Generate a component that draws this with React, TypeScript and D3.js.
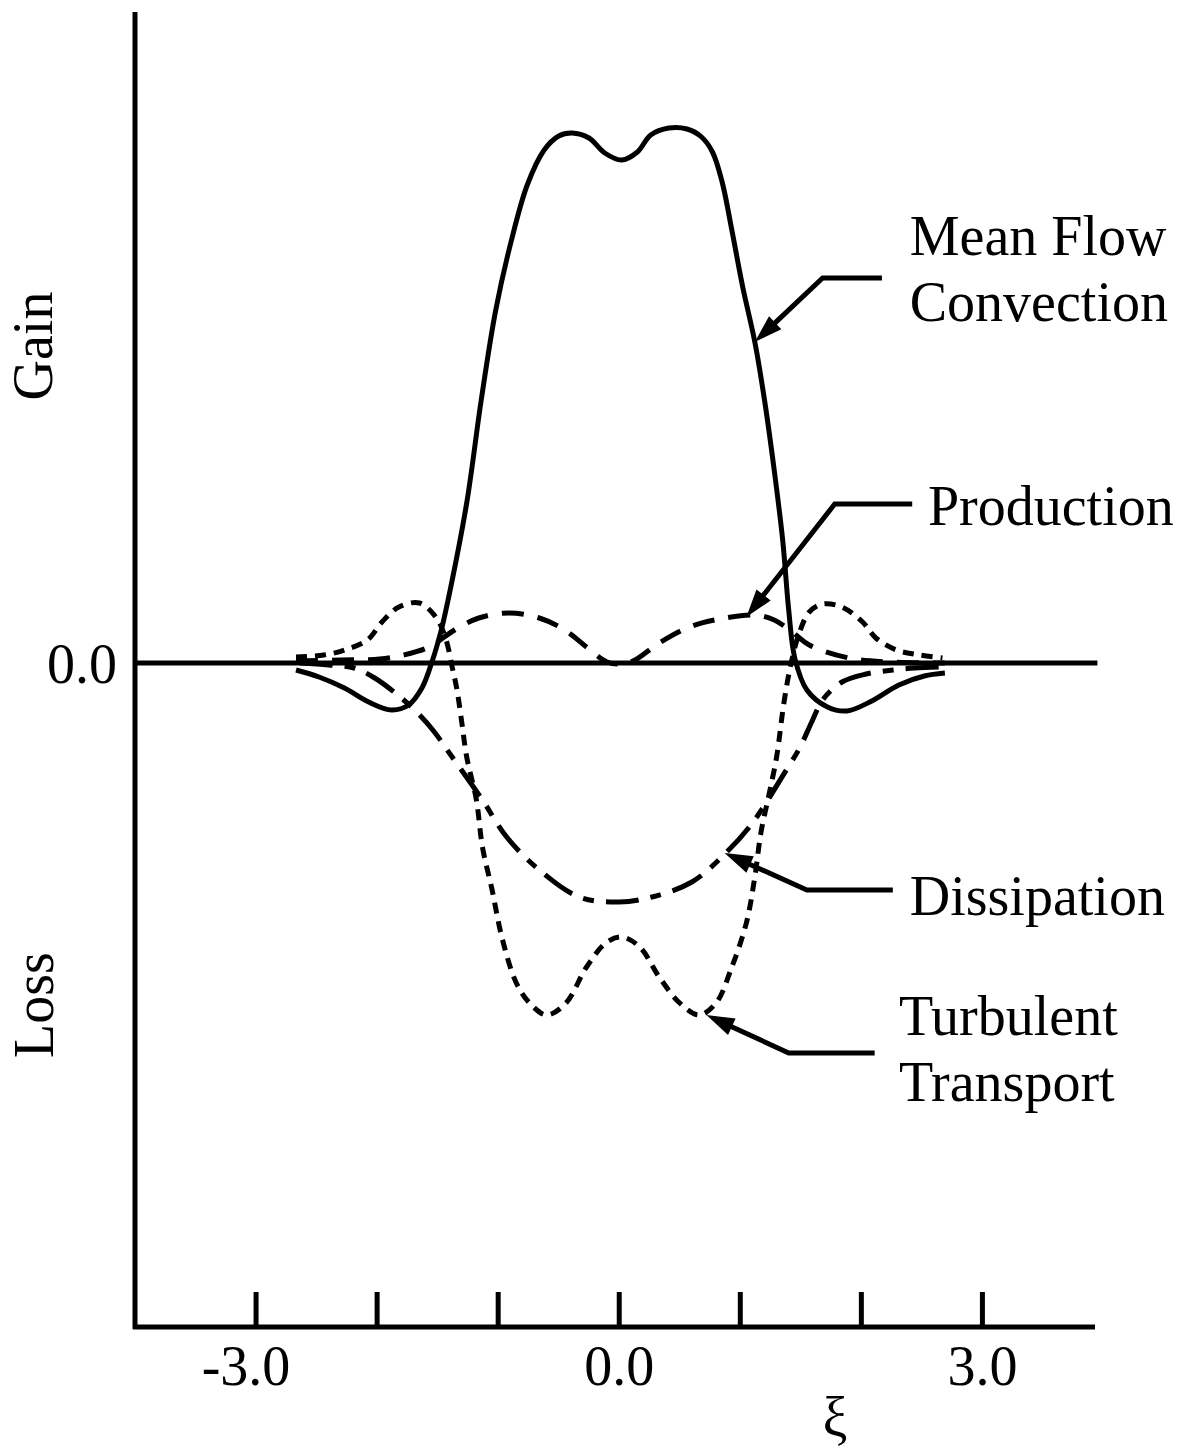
import React from "react";
import * as d3 from "d3";

// ξ positions and values (arbitrary units, gain > 0, loss < 0)
const convectionXi = [-2.67,-2.48,-2.27,-2.07,-1.88,-1.74,-1.63,-1.55,-1.47,-1.40,-1.26,-1.14,-1.02,-0.89,-0.76,-0.62,-0.50,-0.39,-0.25,-0.12,0.02,0.15,0.26,0.41,0.56,0.68,0.77,0.85,0.93,1.02,1.12,1.20,1.28,1.35,1.40,1.45,1.55,1.72,1.88,2.07,2.31,2.52,2.69];
const convectionVal = [-0.07,-0.14,-0.25,-0.39,-0.47,-0.42,-0.25,0.0,0.33,0.71,1.60,2.63,3.53,4.23,4.78,5.13,5.27,5.30,5.25,5.10,5.03,5.11,5.28,5.35,5.34,5.26,5.11,4.81,4.33,3.76,3.21,2.63,1.93,1.23,0.53,0.05,-0.27,-0.44,-0.48,-0.39,-0.22,-0.13,-0.10];

const productionXi = [-2.67,-2.31,-1.98,-1.78,-1.57,-1.36,-1.16,-0.91,-0.66,-0.45,-0.26,-0.10,0.02,0.13,0.33,0.58,0.83,1.12,1.28,1.42,1.57,1.90,2.23,2.69];
const productionVal = [0.02,0.03,0.04,0.08,0.16,0.33,0.45,0.50,0.45,0.33,0.15,0.01,-0.01,0.03,0.20,0.36,0.44,0.48,0.43,0.32,0.18,0.05,0.01,0.0];

const dissipationXi = [-2.64,-2.40,-2.19,-2.02,-1.86,-1.69,-1.54,-1.38,-1.13,-0.93,-0.66,-0.33,0.0,0.27,0.60,0.88,1.10,1.38,1.49,1.59,1.68,1.84,2.04,2.26,2.44,2.64];
const dissipationVal = [0.0,-0.02,-0.05,-0.15,-0.29,-0.47,-0.67,-0.94,-1.37,-1.74,-2.07,-2.34,-2.39,-2.34,-2.19,-1.90,-1.60,-1.07,-0.85,-0.59,-0.37,-0.19,-0.11,-0.07,-0.05,-0.04];

const transportXi = [-2.67,-2.44,-2.27,-2.08,-1.96,-1.82,-1.65,-1.51,-1.43,-1.38,-1.34,-1.30,-1.26,-1.18,-1.13,-1.05,-0.97,-0.85,-0.74,-0.60,-0.44,-0.27,-0.11,0.02,0.17,0.33,0.50,0.66,0.80,0.93,1.05,1.12,1.17,1.24,1.30,1.36,1.42,1.49,1.57,1.68,1.84,2.01,2.12,2.29,2.48,2.67];
const transportVal = [0.06,0.08,0.13,0.23,0.41,0.56,0.60,0.45,0.23,-0.04,-0.27,-0.60,-0.94,-1.37,-1.84,-2.27,-2.74,-3.20,-3.40,-3.52,-3.40,-3.04,-2.80,-2.74,-2.84,-3.14,-3.40,-3.52,-3.40,-3.04,-2.60,-2.14,-1.70,-1.30,-0.94,-0.40,0.0,0.31,0.51,0.59,0.56,0.41,0.25,0.13,0.08,0.05];

const xTicks = [-3, -2, -1, 0, 1, 2, 3];
const xTickLabels = ["-3.0", "", "", "0.0", "", "", "3.0"];
const yTickValues = [0];
const yTickLabels = ["0.0"];

const seriesNames = ["Mean Flow Convection", "Production", "Dissipation", "Turbulent Transport"];

// leader lines: [start, bend, tip] in data coords; label lines
const leaderPoints: [number, number][][] = [
  [[2.17, 3.85], [1.68, 3.85], [1.12, 3.21]],
  [[2.42, 1.59], [1.78, 1.59], [1.05, 0.46]],
  [[2.26, -2.27], [1.55, -2.27], [0.87, -1.90]],
  [[2.11, -3.90], [1.40, -3.90], [0.72, -3.52]],
];
const labelLines = [["Mean Flow", "Convection"], ["Production"], ["Dissipation"], ["Turbulent", "Transport"]];
const labelAnchors: [number, number][] = [[2.40, 4.08], [2.55, 1.38], [2.40, -2.52], [2.31, -3.72]];

const W = 1196, H = 1449;
const FONT = "'Liberation Serif', 'Times New Roman', serif";

export default function App() {
  const x = d3.scaleLinear().domain([-4, 3.93]).range([135, 1095]);
  const y = d3.scaleLinear().domain([-6.64, 6.51]).range([1327, 12]);
  const line = d3
    .line<[number, number]>()
    .x((d) => x(d[0]))
    .y((d) => y(d[1]))
    .curve(d3.curveCatmullRom.alpha(0.5));

  const zip = (a: number[], b: number[]) => a.map((v, i) => [v, b[i]] as [number, number]);
  const series = [
    { data: zip(convectionXi, convectionVal), dash: "none" },
    { data: zip(productionXi, productionVal), dash: "22,14" },
    { data: zip(dissipationXi, dissipationVal), dash: "33,12,11,12" },
    { data: zip(transportXi, transportVal), dash: "11,8" },
  ];

  const fs = 56;
  const lineGap = 66;

  return (
    <svg
      width={W}
      height={H}
      style={{ position: "absolute", left: 0, top: 0, background: "#fff" }}
      fontFamily={FONT}
    >
      <rect x={0} y={0} width={W} height={H} fill="#fff" />
      {/* axes */}
      <line x1={x(-4)} x2={x(-4)} y1={12} y2={1329} stroke="#000" strokeWidth={5} />
      <line x1={x(-4) - 2} x2={x(3.93)} y1={1327} y2={1327} stroke="#000" strokeWidth={5} />
      {xTicks.map((t, i) => (
        <g key={t}>
          <line x1={x(t)} x2={x(t)} y1={1292} y2={1327} stroke="#000" strokeWidth={5} />
          {xTickLabels[i] && (
            <text
              x={x(t) - (xTickLabels[i].startsWith("-") ? 10 : 0)}
              y={1385}
              fontSize={fs}
              textAnchor="middle"
            >
              {xTickLabels[i]}
            </text>
          )}
        </g>
      ))}
      <text x={835} y={1436} fontSize={fs} textAnchor="middle">ξ</text>
      {/* zero line */}
      <line x1={x(-4)} x2={x(3.95)} y1={y(0)} y2={y(0)} stroke="#000" strokeWidth={5} />
      {yTickValues.map((v, i) => (
        <text key={v} x={117} y={y(v) + 20} fontSize={fs} textAnchor="end">{yTickLabels[i]}</text>
      ))}
      <text transform={`translate(52,346) rotate(-90)`} fontSize={fs} textAnchor="middle">Gain</text>
      <text transform={`translate(53,1005) rotate(-90)`} fontSize={fs} textAnchor="middle">Loss</text>

      {/* curves */}
      {series.map((s, i) => (
        <path
          key={seriesNames[i]}
          d={line(s.data) || ""}
          fill="none"
          stroke="#000"
          strokeWidth={5}
          strokeDasharray={s.dash}
        />
      ))}

      {/* leaders */}
      {leaderPoints.map((pts, i) => {
        const p = pts.map((d) => [x(d[0]), y(d[1])]);
        const [bx, by] = p[1];
        const [tx, ty] = p[2];
        const dx = tx - bx, dy = ty - by;
        const len = Math.hypot(dx, dy);
        const ux = dx / len, uy = dy / len;
        const L = 28, hw = 9;
        const baseX = tx - ux * L, baseY = ty - uy * L;
        const head = [
          [tx, ty],
          [baseX - uy * hw, baseY + ux * hw],
          [baseX + uy * hw, baseY - ux * hw],
        ];
        return (
          <g key={"lead" + i}>
            <polyline
              points={`${p[0][0]},${p[0][1]} ${bx},${by} ${baseX + ux * 2},${baseY + uy * 2}`}
              fill="none"
              stroke="#000"
              strokeWidth={5}
            />
            <polygon points={head.map((h) => h.join(",")).join(" ")} fill="#000" />
          </g>
        );
      })}
      {labelLines.map((ls, i) => (
        <text key={"lab" + i} x={x(labelAnchors[i][0])} y={y(labelAnchors[i][1])} fontSize={fs}>
          {ls.map((t, j) => (
            <tspan key={j} x={x(labelAnchors[i][0])} dy={j === 0 ? 0 : lineGap}>{t}</tspan>
          ))}
        </text>
      ))}
    </svg>
  );
}
